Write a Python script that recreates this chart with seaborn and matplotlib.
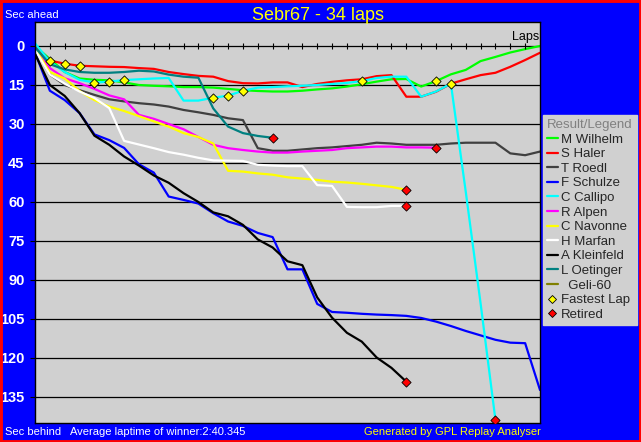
import numpy as np
import pandas as pd
import seaborn as sns
import matplotlib
matplotlib.use("Agg")
import matplotlib.pyplot as plt
from matplotlib.lines import Line2D
from matplotlib.patches import Rectangle

# Daten: Sekunden hinter dem Referenztempo pro Runde (Runde 0 = Start)
drivers = ["M Wilhelm", "S Haler", "T Roedl", "F Schulze", "C Callipo", "R Alpen",
           "C Navonne", "H Marfan", "A Kleinfeld", "L Oetinger", "  Geli-60"]
colors = ["#00FF00", "#FF0000", "#404040", "#0000FF", "#00FFFF", "#FF00FF",
          "#FFFF00", "#FFFFFF", "#000000", "#008080", "#808000"]

wilhelm = [0, 5, 10, 12.5, 13, 13.2, 14, 15, 15.3, 15.5, 15.8, 15.8, 16, 16.5, 17, 17.3,
           17.5, 17.5, 17.2, 16.7, 16.3, 15.6, 14.7, 13.7, 12.8, 12.7, 15.6, 13.5, 10.9,
           9.2, 5.8, 4.2, 2.5, 1.2, 0]
haler = [0, 5.6, 6.8, 7.6, 7.8, 8, 8.1, 8.5, 8.8, 10, 10.8, 11.5, 11.8, 13.5, 14.3, 14.4,
         14, 14, 15.8, 14.6, 13.8, 13.2, 12.8, 11.6, 11.2, 19.5, 19.5, 17.6, 14.5, 12.8,
         11.2, 10.3, 8, 5.4, 2.6]
roedl = [1, 11, 15, 17, 18.8, 20.5, 21.3, 22, 22.5, 23.3, 24.6, 25.5, 26.5, 27.8, 28.5,
         39.3, 40.3, 40.3, 39.8, 39.3, 39, 38.5, 38, 37.2, 37.5, 38, 38, 38, 37.5, 37.2,
         37.2, 37.2, 41.3, 42, 40.6]
schulze = [2.5, 17.2, 20.8, 25.8, 34, 36.2, 39.2, 45.5, 48.7, 57.9, 59.2, 60.6, 64.3, 67.5,
           69.2, 71.9, 73.5, 85.9, 85.9, 99.2, 102.3, 102.6, 103, 103.3, 103.5, 103.8,
           104.6, 106, 107.7, 109.6, 111.3, 113, 114.1, 114.3, 132.3]
callipo = [-1, 6, 10, 13, 14.1, 13.7, 13.1, 12.8, 12.5, 12.3, 21, 21, 19.9, 19.1, 17.2, 16,
           15.8, 15.5, 15.3, 15, 14.6, 14.2, 13.5, 12.3, 11.8, 11.8, 19.5, 17.5, 14.5, 56,
           99, 143.8]
alpen = [0.5, 8.5, 12.4, 14.3, 16.5, 19, 20.5, 26.5, 28, 30, 32, 35, 38, 39.3, 40, 40.6,
         41, 41, 40.6, 40.3, 40, 39.3, 39, 38.7, 38.7, 39, 39, 39.1]
navonne = [1, 10, 12.5, 17.3, 20.8, 23.3, 25, 27, 29, 31, 33.5, 35, 37.5, 48, 48.3, 49,
           49.5, 50.5, 51, 51.5, 52.2, 52.5, 53, 53.6, 54.2, 55.3]
marfan = [1.5, 11, 14.5, 17.5, 20, 23.9, 36.5, 37.9, 39.3, 40.8, 41.8, 43, 44, 44.1, 44.2,
          45.7, 46, 46.2, 46.2, 53.5, 53.8, 61.9, 62, 62, 61.5, 61.5]
kleinfeld = [3, 15, 19.2, 25.8, 34.5, 38, 42.5, 46, 49.8, 52.6, 56.6, 60, 64, 65.5, 68.8,
             74.4, 77.5, 82.8, 84.3, 96.7, 104.5, 110.3, 113.7, 119.8, 123.8, 129.1]
oetinger = [0.5, 7, 9, 10, 10.3, 10.3, 10, 9.5, 9.8, 11, 11.8, 12.2, 24, 31, 33.5, 34.6, 35.3]
geli = []

series = [wilhelm, haler, roedl, schulze, callipo, alpen, navonne, marfan, kleinfeld,
          oetinger, geli]

# Schnellste Runden (Fahrer, Runde) und ausgefallene Fahrer
fastest = [("S Haler", 1), ("S Haler", 2), ("S Haler", 3), ("C Callipo", 4),
           ("C Callipo", 5), ("C Callipo", 6), ("C Callipo", 12), ("C Callipo", 13),
           ("C Callipo", 14), ("C Callipo", 22), ("M Wilhelm", 27), ("C Callipo", 28)]
retired = ["L Oetinger", "R Alpen", "C Navonne", "H Marfan", "A Kleinfeld", "C Callipo"]

total_laps = 34
yticks = list(range(0, 136, 15))

rows = []
for name, vals in zip(drivers, series):
    for lap, v in enumerate(vals):
        rows.append({"driver": name, "lap": lap, "sec": v})
df = pd.DataFrame(rows)
lookup = {(r.driver, r.lap): r.sec for r in df.itertuples()}

fl = pd.DataFrame({"lap": [l for d, l in fastest], "sec": [lookup[(d, l)] for d, l in fastest]})
last = df.groupby("driver").tail(1).set_index("driver")
rt = last.loc[retired].reset_index()

sns.set_style("white")
plt.rcParams["font.family"] = ["Liberation Sans", "DejaVu Sans"]

fig = plt.figure(figsize=(6.41, 4.42), dpi=100, facecolor="#0000FF")
ax = fig.add_axes([35 / 641, 1 - 423 / 442, 505 / 641, 401 / 442])
ax.set_facecolor("#D0D0D0")

present = [d for d, s in zip(drivers, series) if len(s)]
palette = dict(zip(drivers, colors))
sns.lineplot(data=df, x="lap", y="sec", hue="driver", hue_order=present, palette=palette,
             estimator=None, sort=False, linewidth=1.6, legend=False, ax=ax)
sns.scatterplot(data=fl, x="lap", y="sec", marker="D", s=22, color="#FFFF00",
                edgecolor="black", linewidth=0.6, zorder=5, ax=ax)
sns.scatterplot(data=rt, x="lap", y="sec", marker="D", s=22, color="#FF0000",
                edgecolor="black", linewidth=0.6, zorder=5, ax=ax)

# Rundenmarken auf der Null-Linie
ax.plot(range(1, total_laps), [0] * (total_laps - 1), linestyle="none", marker="|",
        markersize=5, markeredgewidth=0.8, color="black", zorder=4)
ax.text(total_laps - 0.05, -1.0, "Laps", ha="right", va="bottom", fontsize=9, color="black")

ax.set_xlim(0, total_laps)
ax.set_ylim(145, -9.23)
ax.set_yticks(yticks)
ax.set_xticks([])
ax.set_xlabel("")
ax.set_ylabel("")
ax.yaxis.grid(True, color="black", linewidth=0.9)
ax.set_axisbelow(True)
ax.tick_params(axis="y", length=3.5, width=0.8, color="black", labelcolor="white",
               pad=4, left=True)
for lab in ax.get_yticklabels():
    lab.set_fontweight("bold")
    lab.set_fontsize(10.5)
for sp in ax.spines.values():
    sp.set_color("black")
    sp.set_linewidth(1)
    sp.set_visible(True)

# Legende
handles = [Line2D([], [], color=c, linewidth=1.6) for c in colors]
handles += [Line2D([], [], linestyle="none", marker="D", markersize=4.5, markerfacecolor="#FFFF00",
                   markeredgecolor="black", markeredgewidth=0.6),
            Line2D([], [], linestyle="none", marker="D", markersize=4.5, markerfacecolor="#FF0000",
                   markeredgecolor="black", markeredgewidth=0.6)]
labels = drivers + ["Fastest Lap", "Retired"]
leg = fig.legend(handles, labels, loc="upper left", bbox_to_anchor=(543 / 641, 1 - 115 / 442),
                 frameon=True, facecolor="#D0D0D0", edgecolor="#D0D0D0", fancybox=False,
                 framealpha=1, title="Result/Legend", title_fontsize=9.5, fontsize=9.5,
                 handlelength=0.8, handletextpad=0.25, labelspacing=0.18, borderpad=0.3,
                 borderaxespad=0, alignment="left")
leg.get_title().set_color("#808080")

fig.text(318.5 / 641, 1 - 20.5 / 442, "Sebr67 - 34 laps", ha="center", va="baseline",
         fontsize=13, color="#FFFF00")
fig.text(5 / 641, 1 - 15.5 / 442, "Sec ahead", ha="left", va="center", fontsize=8, color="white")
fig.text(5 / 641, 1 - 432 / 442, "Sec behind", ha="left", va="center", fontsize=8, color="white")
fig.text(70 / 641, 1 - 432 / 442, "Average laptime of winner:2:40.345", ha="left", va="center",
         fontsize=8, color="white")
fig.text(541 / 641, 1 - 432 / 442, "Generated by GPL Replay Analyser", ha="right", va="center",
         fontsize=8, color="#FFFF00")

fig.add_artist(Rectangle((0, 0), 1, 1, transform=fig.transFigure, fill=False,
                         edgecolor="#FF0000", linewidth=3.5))

fig.savefig("out.png", dpi=100, facecolor=fig.get_facecolor())
